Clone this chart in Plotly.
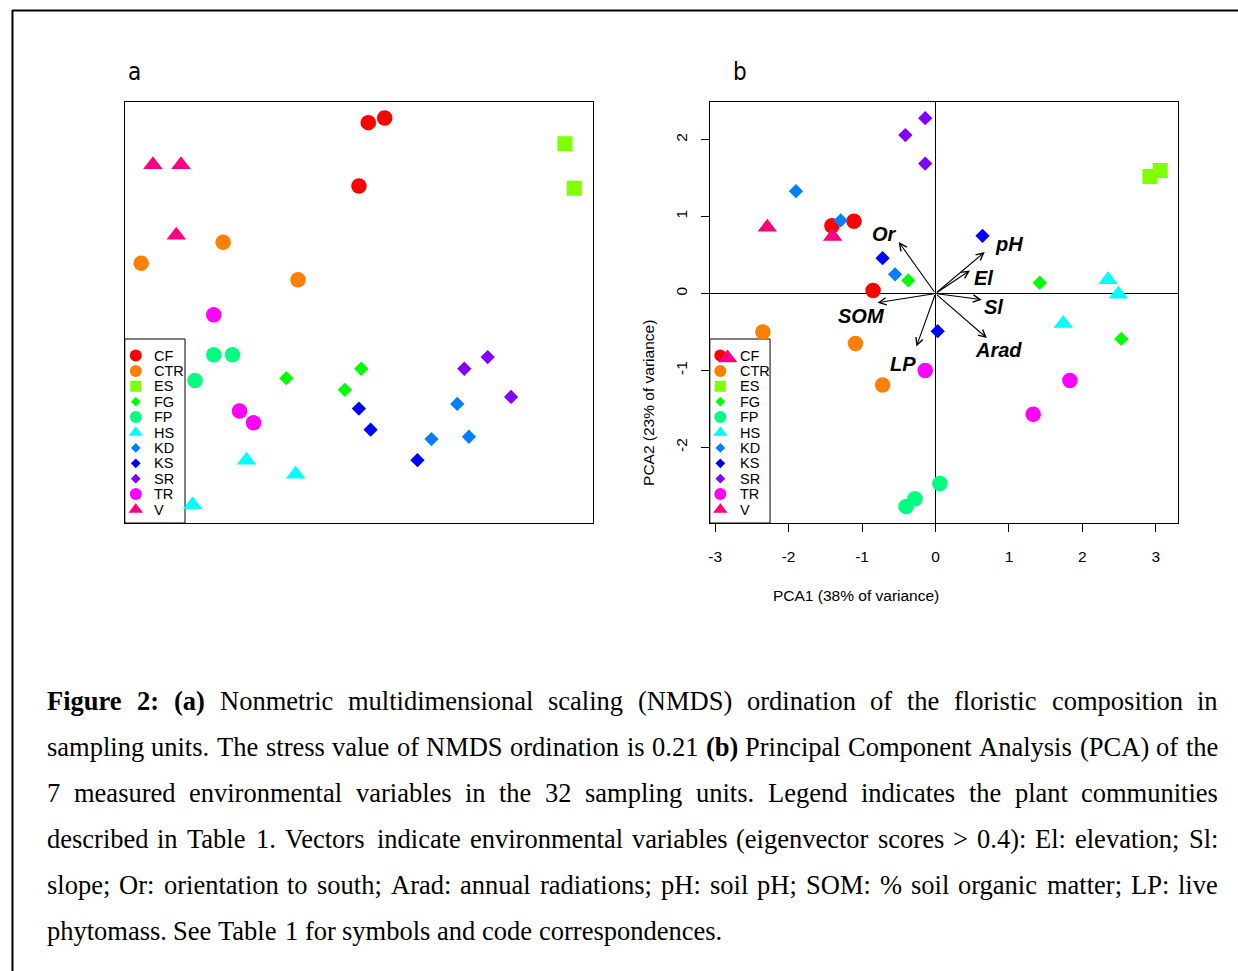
import plotly.graph_objects as go

# Page size (px)
W, H = 1238, 971

# Plant communities, colours and symbols
GROUPS = ["CF", "CTR", "ES", "FG", "FP", "HS", "KD", "KS", "SR", "TR", "V"]
COLORS = ["#FF0000", "#FF8000", "#80FF00", "#00FF00", "#00FF80", "#00FFFF",
          "#0080FF", "#0000FF", "#8000FF", "#FF00FF", "#FF0080"]
SYMBOLS = ["circle", "circle", "square", "diamond", "circle", "triangle-up",
           "diamond", "diamond", "diamond", "circle", "triangle-up"]

# Community of each of the 32 sampling units
UNIT_GROUP = (["CF"] * 3 + ["CTR"] * 3 + ["ES"] * 2 + ["FG"] * 3 + ["FP"] * 3
              + ["HS"] * 3 + ["KD"] * 3 + ["KS"] * 3 + ["SR"] * 3 + ["TR"] * 3 + ["V"] * 3)

# (a) NMDS scores
NMDS1 = [0.04, 0.11, 0.00,
         -0.58, -0.93, -0.26,
         0.88, 0.92,
         -0.31, 0.01, -0.06,
         -0.62, -0.54, -0.70,
         -0.48, -0.27, -0.71,
         0.42, 0.31, 0.47,
         0.00, 0.05, 0.25,
         0.55, 0.45, 0.65,
         -0.62, -0.51, -0.45,
         -0.88, -0.76, -0.78]
NMDS2 = [0.81, 0.83, 0.54,
         0.30, 0.21, 0.14,
         0.72, 0.53,
         -0.28, -0.24, -0.33,
         -0.18, -0.18, -0.29,
         -0.63, -0.69, -0.82,
         -0.39, -0.54, -0.53,
         -0.41, -0.50, -0.63,
         -0.19, -0.24, -0.36,
         -0.01, -0.42, -0.47,
         0.63, 0.63, 0.33]

# (b) PCA scores
PCA1 = [-1.11, -1.41, -0.85,
        -2.35, -1.09, -0.72,
        2.92, 3.06,
        -0.37, 1.42, 2.53,
        0.06, -0.28, -0.40,
        2.35, 2.49, 1.74,
        -1.90, -1.29, -0.55,
        -0.72, 0.64, 0.03,
        -0.14, -0.41, -0.14,
        -0.14, 1.83, 1.33,
        -2.29, -1.40, -2.83]
PCA2 = [0.94, 0.88, 0.04,
        -0.50, -0.65, -1.19,
        1.52, 1.60,
        0.17, 0.14, -0.59,
        -2.47, -2.67, -2.77,
        0.18, -0.01, -0.39,
        1.33, 0.95, 0.25,
        0.46, 0.75, -0.49,
        2.28, 2.06, 1.69,
        -1.00, -1.13, -1.57,
        0.86, 0.74, -0.84]

# Environmental vectors (eigenvector scores) and where their labels sit
VAR_NAMES = ["Or", "pH", "El", "Sl", "Arad", "SOM", "LP"]
VAR_PC1 = [-0.50, 0.67, 0.47, 0.63, 0.70, -0.79, -0.26]
VAR_PC2 = [0.67, 0.54, 0.30, -0.08, -0.58, -0.12, -0.69]
VAR_LABEL_PC1 = [-0.70, 1.00, 0.66, 0.79, 0.86, -1.01, -0.44]
VAR_LABEL_PC2 = [0.77, 0.65, 0.20, -0.17, -0.74, -0.29, -0.92]

PCA1_TICKS = [-3, -2, -1, 0, 1, 2, 3]
PCA2_TICKS = [-2, -1, 0, 1, 2]

CAPTION_LINES = [
    "Figure 2: (a) Nonmetric multidimensional scaling (NMDS) ordination of the floristic composition in",
    "sampling units. The stress value of NMDS ordination is 0.21 (b) Principal Component Analysis (PCA) of the",
    "7 measured environmental variables in the 32 sampling units. Legend indicates the plant communities",
    "described in Table 1. Vectors indicate environmental variables (eigenvector scores > 0.4): El: elevation; Sl:",
    "slope; Or: orientation to south; Arad: annual radiations; pH: soil pH; SOM: % soil organic matter; LP: live",
    "phytomass. See Table 1 for symbols and code correspondences.",
]
BOLD_WORDS = {"Figure", "2:", "(a)", "(b)"}

# Styling
MARKER_SIZE = {"circle": 15.5, "square": 15, "diamond": 11, "triangle-up": 17}
LEGEND_SIZE = {"circle": 12, "square": 11, "diamond": 7.5, "triangle-up": 12.5}
SANS = "Liberation Sans, Arial, Helvetica, sans-serif"
SERIF = "Liberation Serif, Times New Roman, serif"
CAP_SIZE = 26.5

# Times widths (1/1000 em) used to justify the caption
ROMAN_W = dict(zip("abcdefghijklmnopqrstuvwxyz",
                   [444, 500, 444, 500, 444, 333, 500, 500, 278, 278, 500, 278, 778,
                    500, 500, 500, 500, 333, 389, 278, 500, 500, 722, 500, 500, 444]))
ROMAN_W.update(zip("ABCDEFGHIJKLMNOPQRSTUVWXYZ",
                   [722, 667, 667, 722, 611, 556, 722, 722, 333, 389, 722, 611, 889,
                    722, 722, 556, 722, 667, 556, 611, 722, 722, 944, 722, 722, 611]))
ROMAN_W.update({d: 500 for d in "0123456789"})
ROMAN_W.update({" ": 250, ".": 250, ",": 250, ":": 278, ";": 278, "(": 333, ")": 333,
                "%": 833, ">": 564, "-": 333})
BOLD_W = dict(ROMAN_W)
BOLD_W.update({"a": 500, "b": 556, "F": 611, "r": 444, "u": 556, ":": 333})


def word_width(word, bold):
    table = BOLD_W if bold else ROMAN_W
    return sum(table.get(ch, 500) for ch in word) / 1000 * CAP_SIZE


def px(xp):
    return xp / W


def py(yp):
    return 1 - yp / H


fig = go.Figure()

# --- data points -----------------------------------------------------------
for g, col, sym in zip(GROUPS, COLORS, SYMBOLS):
    idx = [i for i, u in enumerate(UNIT_GROUP) if u == g]
    mk = dict(symbol=sym, color=col, size=MARKER_SIZE[sym], opacity=1, line=dict(width=0))
    fig.add_trace(go.Scatter(
        x=[NMDS1[i] for i in idx], y=[NMDS2[i] for i in idx],
        mode="markers", marker=mk, name=g, xaxis="x", yaxis="y",
        hoverinfo="name"
    ))
    fig.add_trace(go.Scatter(
        x=[PCA1[i] for i in idx], y=[PCA2[i] for i in idx],
        mode="markers", marker=mk, name=g, xaxis="x4", yaxis="y4",
        hoverinfo="name"
    ))

# --- legends (a: x2/y2, b: x3/y3), rows in legend pixel units ---------------
ROW0, ROW_STEP = 16.5, 15.4
for xa, ya, mx, tx in [("x2", "y2", 11, 27), ("x3", "y3", 10.5, 28)]:
    rows = [ROW0 + i * ROW_STEP for i in range(len(GROUPS))]
    fig.add_trace(go.Scatter(
        x=[mx] * len(GROUPS), y=rows, mode="markers", xaxis=xa, yaxis=ya,
        marker=dict(symbol=SYMBOLS, color=COLORS, opacity=1,
                    size=[LEGEND_SIZE[s] for s in SYMBOLS], line=dict(width=0)),
        hoverinfo="skip"
    ))
    for g, r in zip(GROUPS, rows):
        fig.add_annotation(x=tx, y=r, xref=xa, yref=ya, text=g, showarrow=False,
                           xanchor="left", yanchor="middle",
                           font=dict(family=SANS, size=14.5, color="black"))

for x0, x1 in [(123, 183.3), (709, 769.3)]:
    fig.add_shape(type="rect", xref="paper", yref="paper",
                  x0=px(x0), x1=px(x1), y0=py(523), y1=py(339),
                  line=dict(color="black", width=1), fillcolor="white", layer="below")

# --- environmental vectors -------------------------------------------------
for name, vx, vy, lx, ly in zip(VAR_NAMES, VAR_PC1, VAR_PC2, VAR_LABEL_PC1, VAR_LABEL_PC2):
    fig.add_annotation(x=vx, y=vy, ax=0, ay=0, xref="x4", yref="y4", axref="x4", ayref="y4",
                       text="", showarrow=True, arrowhead=5, arrowsize=1.3,
                       arrowwidth=1.1, arrowcolor="black", standoff=0)
    fig.add_annotation(x=lx, y=ly, xref="x4", yref="y4", text=f"<b><i>{name}</i></b>",
                       showarrow=False, font=dict(family=SANS, size=20, color="black"))

# --- axis titles and panel letters ----------------------------------------
fig.add_annotation(x=px(941), y=py(595), xref="paper", yref="paper",
                   text="PCA1 (38% of variance)", showarrow=False,
                   font=dict(family=SANS, size=15.5, color="black"))
fig.add_annotation(x=px(647), y=py(318), xref="paper", yref="paper",
                   text="PCA2 (23% of variance)", showarrow=False, textangle=-90,
                   font=dict(family=SANS, size=15.5, color="black"))
for letter, lx in [("a", 133), ("b", 739)]:
    fig.add_annotation(x=px(lx), y=py(72), xref="paper", yref="paper", text=letter,
                       showarrow=False, xanchor="center", yanchor="middle",
                       font=dict(family="Liberation Sans Narrow, DejaVu Sans Condensed, Liberation Sans",
                                 size=24, color="black"))

# --- justified caption -----------------------------------------------------
CAP_LEFT, CAP_RIGHT, CAP_TOP, CAP_STEP = 44, 1217, 701, 46
for li, line in enumerate(CAPTION_LINES):
    words = line.split(" ")
    widths = [word_width(w, w in BOLD_WORDS) for w in words]
    if li < len(CAPTION_LINES) - 1:
        gap = (CAP_RIGHT - CAP_LEFT - sum(widths)) / (len(words) - 1)
    else:
        gap = word_width(" ", False)
    xpos = CAP_LEFT
    for w, wd in zip(words, widths):
        txt = f"<b>{w}</b>" if w in BOLD_WORDS else w
        fig.add_annotation(x=px(xpos - 1), y=py(CAP_TOP + li * CAP_STEP),
                           xref="paper", yref="paper", text=txt, showarrow=False,
                           xanchor="left", yanchor="middle",
                           font=dict(family=SERIF, size=CAP_SIZE, color="black"))
        xpos += wd + gap

# --- page frame ------------------------------------------------------------
fig.add_shape(type="line", xref="paper", yref="paper", x0=px(10), x1=1, y0=py(10.5), y1=py(10.5),
              line=dict(color="black", width=2))
fig.add_shape(type="line", xref="paper", yref="paper", x0=px(10.5), x1=px(10.5), y0=0, y1=py(10),
              line=dict(color="black", width=2))

box = dict(showline=True, mirror=True, linecolor="black", linewidth=1, showgrid=False)
hidden = dict(visible=False, showgrid=False, zeroline=False, fixedrange=True)
tickfont = dict(family=SANS, size=15.5, color="black")

fig.update_layout(
    width=W, height=H,
    margin=dict(l=0, r=0, t=0, b=0),
    paper_bgcolor="white", plot_bgcolor="rgba(0,0,0,0)",
    showlegend=False,
    xaxis=dict(domain=[px(123), px(592)], range=[-1, 1], anchor="y", zeroline=False,
               showticklabels=False, ticks="", **box),
    yaxis=dict(domain=[py(523), py(102)], range=[-0.898, 0.898], anchor="x", zeroline=False,
               showticklabels=False, ticks="", **box),
    xaxis2=dict(domain=[px(123), px(183.3)], range=[0, 60.3], anchor="y2", **hidden),
    yaxis2=dict(domain=[py(523), py(339)], range=[184, 0], anchor="x2", **hidden),
    xaxis3=dict(domain=[px(709), px(769.3)], range=[0, 60.3], anchor="y3", **hidden),
    yaxis3=dict(domain=[py(523), py(339)], range=[184, 0], anchor="x3", **hidden),
    xaxis4=dict(domain=[px(709), px(1178)], range=[-3.072, 3.303], anchor="y4",
                zeroline=True, zerolinecolor="black", zerolinewidth=1,
                ticks="outside", ticklen=8, tickwidth=1, tickcolor="black",
                tickvals=PCA1_TICKS, ticktext=[str(t) for t in PCA1_TICKS],
                tickfont=tickfont, ticklabelstandoff=11, **box),
    yaxis4=dict(domain=[py(523), py(102)], range=[-2.984, 2.490], anchor="x4",
                zeroline=True, zerolinecolor="black", zerolinewidth=1,
                ticks="outside", ticklen=8, tickwidth=1, tickcolor="black",
                tickvals=PCA2_TICKS, ticktext=[str(t) for t in PCA2_TICKS],
                tickangle=-90, tickfont=tickfont, ticklabelstandoff=8, **box),
)

# drop the browser's default body margin so the page lines up with the window
fig.write_html("out.html", config={"displayModeBar": False},
               post_script="document.body.style.margin='0px';")
